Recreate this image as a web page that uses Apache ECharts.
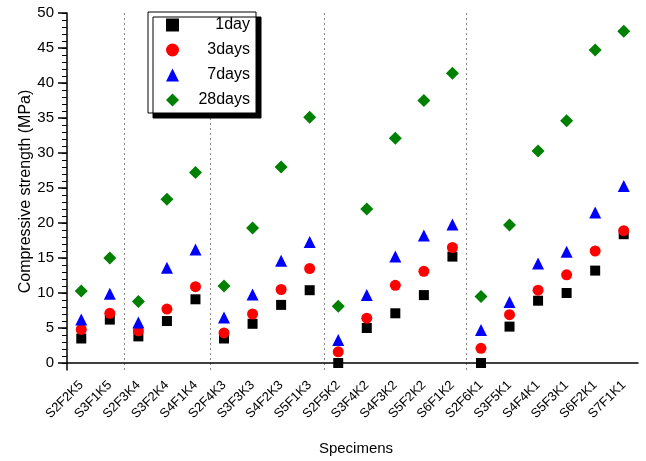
<!DOCTYPE html>
<html>
<head>
<meta charset="utf-8">
<script src="https://cdn.jsdelivr.net/npm/echarts@6/dist/echarts.min.js"></script>
<style>
html,body{margin:0;padding:0;background:#fff;}
#main{width:646px;height:461px;}
</style>
</head>
<body>
<div id="main"></div>
<script>
var categories = ['S2F2K5','S3F1K5','S2F3K4','S3F2K4','S4F1K4','S2F4K3','S3F3K3','S4F2K3','S5F1K3',
	'S2F5K2','S3F4K2','S4F3K2','S5F2K2','S6F1K2','S2F6K1','S3F5K1','S4F4K1','S5F3K1','S6F2K1','S7F1K1'];
var day1 = [3.5,6.2,3.8,6.0,9.1,3.5,5.6,8.3,10.4,0.0,5.0,7.1,9.7,15.2,0.0,5.2,8.9,10.0,13.2,18.4];
var day3 = [4.8,7.1,4.6,7.7,10.9,4.3,7.0,10.5,13.5,1.6,6.4,11.1,13.1,16.5,2.1,6.9,10.4,12.6,16.0,18.9];
var day7 = [6.2,9.9,5.8,13.6,16.2,6.5,9.8,14.6,17.3,3.3,9.7,15.2,18.2,19.8,4.7,8.7,14.2,15.9,21.5,25.3];
var day28 = [10.3,15.0,8.8,23.4,27.2,11.0,19.3,28.0,35.1,8.1,22.0,32.1,37.5,41.4,9.5,19.7,30.3,34.6,44.7,47.4];
var yTicks = [0,5,10,15,20,25,30,35,40,45,50];
var yMinorTicks = [0,1,2,3,4,5,6,7,8,9,10,11,12,13,14,15,16,17,18,19,20,21,22,23,24,25,
	26,27,28,29,30,31,32,33,34,35,36,37,38,39,40,41,42,43,44,45,46,47,48,49,50];
// first category of each group, a dotted line is drawn before it
var groupStarts = [2,5,9,14];

var font = '"Liberation Sans", Arial, sans-serif';

function makeSeries(name, data, symbol, size, color){
	return {
		name: name,
		type: 'scatter',
		data: data,
		symbol: symbol,
		symbolSize: size,
		itemStyle: {color: color, opacity: 1},
		emphasis: {disabled: true}
	};
}

var option = {
	backgroundColor: '#fff',
	animation: false,
	textStyle: {fontFamily: font},
	grid: {left: 67, right: 8, top: 13, bottom: 91, containLabel: false},
	legend: {
		orient: 'vertical',
		left: 148,
		top: 12,
		padding: [5, 6, 5, 18],
		itemWidth: 13,
		itemHeight: 13,
		itemGap: 9,
		backgroundColor: '#fff',
		borderColor: '#000',
		borderWidth: 1,
		shadowColor: '#000',
		shadowBlur: 0,
		shadowOffsetX: 5,
		shadowOffsetY: 5,
		data: ['1day','3days','7days','28days'],
		formatter: function(name){ return '{a|' + name + '}'; },
		textStyle: {
			rich: {
				a: {width: 66, align: 'right', fontSize: 16, color: '#000', fontFamily: font}
			}
		}
	},
	xAxis: {
		type: 'category',
		data: categories,
		boundaryGap: true,
		name: 'Specimens',
		nameLocation: 'middle',
		nameGap: 71,
		nameTextStyle: {fontSize: 15, color: '#000', fontFamily: font, padding: [0, 0, 0, 7]},
		axisLine: {lineStyle: {color: '#000', width: 1.5}},
		axisTick: {alignWithLabel: true, length: 7, lineStyle: {color: '#000', width: 1.5}},
		axisLabel: {rotate: 45, fontSize: 13, color: '#000', margin: 13, interval: 0, fontFamily: font},
		splitLine: {
			show: true,
			showMaxLine: false,
			interval: function(index){ return groupStarts.indexOf(index) >= 0; },
			lineStyle: {color: '#888', type: [2, 3], width: 1}
		}
	},
	yAxis: [
		{
			type: 'value',
			min: -1,
			max: 50,
			position: 'left',
			name: 'Compressive strength (MPa)',
			nameLocation: 'middle',
			nameGap: 33,
			nameMoveOverlap: false,
			nameTextStyle: {fontSize: 16, color: '#000', fontFamily: font},
			axisLine: {show: true, lineStyle: {color: '#000', width: 1.5}},
			axisTick: {show: true, length: 9, customValues: yTicks, lineStyle: {color: '#000', width: 1.5}},
			axisLabel: {customValues: yTicks, fontSize: 15, color: '#000', margin: 13, fontFamily: font},
			splitLine: {show: false}
		},
		{
			type: 'value',
			min: -1,
			max: 50,
			position: 'left',
			axisLine: {show: false},
			axisTick: {show: true, length: 5, customValues: yMinorTicks, lineStyle: {color: '#000', width: 1}},
			axisLabel: {show: false},
			splitLine: {show: false}
		}
	],
	series: [
		makeSeries('1day', day1, 'rect', 10, '#000000'),
		makeSeries('3days', day3, 'circle', 11, '#ff0000'),
		makeSeries('7days', day7, 'triangle', 12, '#0000ff'),
		makeSeries('28days', day28, 'diamond', 13, '#008000')
	]
};

var myChart = echarts.init(document.getElementById('main'));
myChart.setOption(option);
</script>
</body>
</html>
